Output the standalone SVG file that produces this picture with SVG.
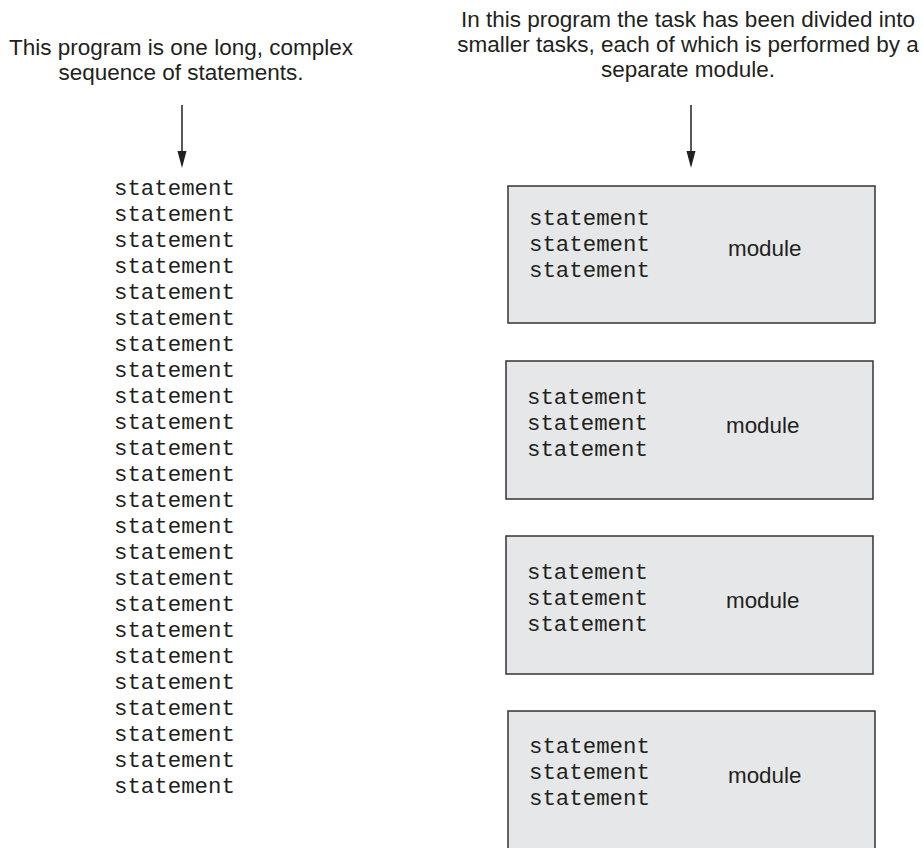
<svg xmlns="http://www.w3.org/2000/svg" width="923" height="848" viewBox="0 0 923 848">
<style>
.head{font-family:"Liberation Sans",Arial,sans-serif;font-size:22.5px;fill:#231f20;text-anchor:middle}
.mono{font-family:"Liberation Mono","Courier New",monospace;font-size:22.4px;fill:#231f20}
.lbl{font-family:"Liberation Sans",Arial,sans-serif;font-size:22.4px;fill:#231f20}
.box{fill:#e6e7e8;stroke:#333;stroke-width:1.5}
.conn{stroke:#231f20;stroke-width:1.5;fill:none}
.head-arrow{fill:#231f20}
</style>
<g id="heading-left">
<text class="head" x="181" y="55">This program is one long, complex</text>
<text class="head" x="181" y="80">sequence of statements.</text>
</g>
<g id="heading-right">
<text class="head" x="688" y="27">In this program the task has been divided into</text>
<text class="head" x="688" y="52">smaller tasks, each of which is performed by a</text>
<text class="head" x="688" y="77">separate module.</text>
</g>
<g id="connectors">
<path class="conn" d="M182,105 V152"/>
<path class="head-arrow" d="M177.5,151 L186.5,151 L182,168 Z"/>
<path class="conn" d="M691,105 V152"/>
<path class="head-arrow" d="M686.5,151 L695.5,151 L691,168 Z"/>
</g>
<g id="long-program">
<text class="mono" x="114" y="195">statement</text>
<text class="mono" x="114" y="221">statement</text>
<text class="mono" x="114" y="247">statement</text>
<text class="mono" x="114" y="273">statement</text>
<text class="mono" x="114" y="299">statement</text>
<text class="mono" x="114" y="325">statement</text>
<text class="mono" x="114" y="351">statement</text>
<text class="mono" x="114" y="377">statement</text>
<text class="mono" x="114" y="403">statement</text>
<text class="mono" x="114" y="429">statement</text>
<text class="mono" x="114" y="455">statement</text>
<text class="mono" x="114" y="481">statement</text>
<text class="mono" x="114" y="507">statement</text>
<text class="mono" x="114" y="533">statement</text>
<text class="mono" x="114" y="559">statement</text>
<text class="mono" x="114" y="585">statement</text>
<text class="mono" x="114" y="611">statement</text>
<text class="mono" x="114" y="637">statement</text>
<text class="mono" x="114" y="663">statement</text>
<text class="mono" x="114" y="689">statement</text>
<text class="mono" x="114" y="715">statement</text>
<text class="mono" x="114" y="741">statement</text>
<text class="mono" x="114" y="767">statement</text>
<text class="mono" x="114" y="793">statement</text>
</g>
<g id="module1">
<rect class="box" x="508" y="186" width="367" height="137"/>
<text class="mono" x="529" y="224.5">statement</text>
<text class="mono" x="529" y="250.5">statement</text>
<text class="mono" x="529" y="276.5">statement</text>
<text class="lbl" x="728" y="256">module</text>
</g>
<g id="module2">
<rect class="box" x="506" y="361" width="367" height="138"/>
<text class="mono" x="527" y="403.5">statement</text>
<text class="mono" x="527" y="429.5">statement</text>
<text class="mono" x="527" y="455.5">statement</text>
<text class="lbl" x="726" y="433">module</text>
</g>
<g id="module3">
<rect class="box" x="506" y="536" width="367" height="138"/>
<text class="mono" x="527" y="578.5">statement</text>
<text class="mono" x="527" y="604.5">statement</text>
<text class="mono" x="527" y="630.5">statement</text>
<text class="lbl" x="726" y="608">module</text>
</g>
<g id="module4">
<rect class="box" x="508" y="711" width="367" height="150"/>
<text class="mono" x="529" y="753">statement</text>
<text class="mono" x="529" y="779">statement</text>
<text class="mono" x="529" y="805">statement</text>
<text class="lbl" x="728" y="783">module</text>
</g>
</svg>
